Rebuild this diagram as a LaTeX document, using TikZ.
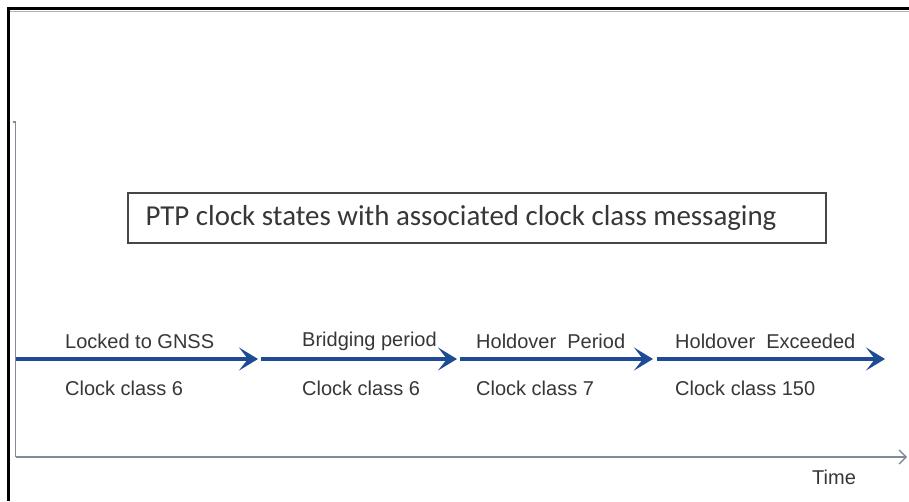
\documentclass[tikz,border=0pt]{standalone}
\usepackage{fontspec}
\setmainfont{Liberation Sans}
\newfontfamily\titlefont{Carlito}
\usetikzlibrary{arrows.meta}
\definecolor{arrowblue}{RGB}{30,76,148}
\definecolor{axisgray}{RGB}{128,138,152}
\definecolor{txtgray}{RGB}{55,55,55}
\definecolor{boxgray}{RGB}{70,70,70}
\tikzset{
  x=1pt, y=-1pt,
  statearrow/.style={draw=arrowblue, line width=3.6pt,
    -{Stealth[length=19pt,width=23pt,inset=9pt]}},
  statelabel/.style={anchor=west, inner sep=0pt, text=txtgray,
    font=\fontsize{20}{24}\selectfont},
  axisline/.style={draw=axisgray, line width=1.6pt},
  titlebox/.style={draw=boxgray, line width=1.5pt, minimum width=698pt,
    minimum height=50pt, inner sep=0pt, text=txtgray,
    font=\titlefont\fontsize{28.9}{32}\selectfont},
}
\begin{document}
\begin{tikzpicture}
\useasboundingbox (0,0) rectangle (909,501);
\fill[white] (0,0) rectangle (909,501);
% frame
\draw[line width=3pt, black] (8.5,501) -- (8.5,8.5) -- (909,8.5);
\draw[line width=1pt, black!30] (10,11) -- (909,11);
% axes
\coordinate (ytop) at (15.5,122);
\coordinate (origin) at (15.5,457);
\coordinate (xend) at (907,457);
\draw[axisline] (12.5,122) -- (ytop) -- (origin);
\draw[axisline, -{Straight Barb[length=7pt,width=14pt,line width=1.4pt]}] (origin) -- (xend);
\node[statelabel] (time) at (812,477) {Time};
% title
\node[titlebox] (title) at (477,218) {\hspace*{-32pt}PTP clock states with associated clock class messaging};
% state arrows
\coordinate (a0) at (16,359);
\coordinate (a1) at (258,359);
\coordinate (a2) at (261,359);
\coordinate (a3) at (457,359);
\coordinate (a4) at (460,359);
\coordinate (a5) at (653,359);
\coordinate (a6) at (657,359);
\coordinate (a7) at (885,359);
\draw[statearrow] (a0) -- (a1);
\draw[statearrow] (a2) -- (a3);
\draw[statearrow] (a4) -- (a5);
\draw[statearrow] (a6) -- (a7);
% labels
\node[statelabel] (s1) at (65,341) {Locked to GNSS};
\node[statelabel] (s2) at (302,341) {Bridging period};
\node[statelabel] (s3) at (476,341) {Holdover\ \ Period};
\node[statelabel] (s4) at (675,341) {Holdover\ \ Exceeded};
\node[statelabel] (c1) at (65,388) {Clock class 6};
\node[statelabel] (c2) at (302,388) {Clock class 6};
\node[statelabel] (c3) at (476,388) {Clock class 7};
\node[statelabel] (c4) at (675,388) {Clock class 150};
\end{tikzpicture}
\end{document}
